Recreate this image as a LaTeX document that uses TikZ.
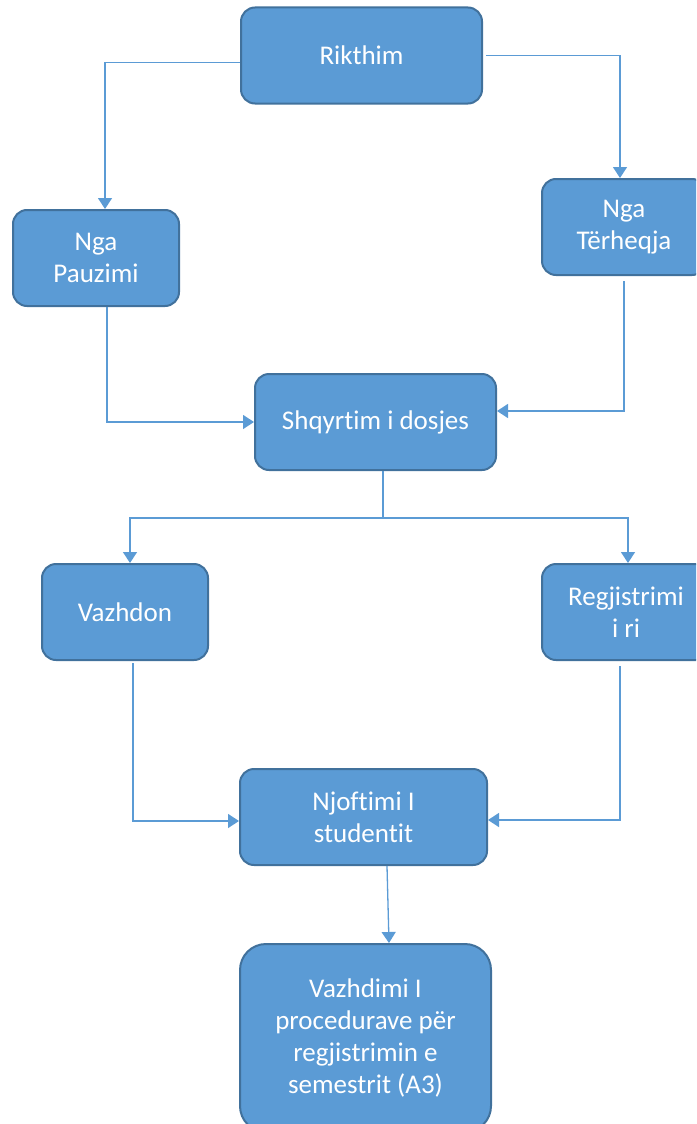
\documentclass[tikz,border=0pt]{standalone}
\usepackage{fontspec}
\setmainfont[Ligatures=NoCommon]{Carlito}
\usetikzlibrary{arrows.meta}
\definecolor{boxblue}{HTML}{5B9BD5}
\definecolor{boxedge}{HTML}{41719C}
\tikzset{
  block/.style={draw=boxedge, line width=2pt, fill=boxblue, rounded corners=14pt, align=center, text=white, minimum height=96pt, font=\fontsize{27}{32}\selectfont},
  bigblock/.style={block, rounded corners=26pt},
  link/.style={draw=boxblue, line width=1.3pt},
  flow/.style={link, -{Triangle[length=11pt, width=14pt]}}
}
\begin{document}
\begin{tikzpicture}[x=1pt, y=-1pt]
\useasboundingbox (0,0) rectangle (696,1124);
\clip (0,0) rectangle (696,1124);
\node[block, minimum width=241pt] (rik) at (361.5,55.5) {Rikthim};
\node[block, minimum width=166pt] (pauz) at (96,258) {Nga\\Pauzimi};
\node[block, minimum width=164pt] (terh) at (624,227) {Nga\\Tërheqja};
\node[block, minimum width=241pt] (shq) at (375.5,422) {Shqyrtim i dosjes};
\node[block, minimum width=166pt] (vazh) at (125,612) {Vazhdon};
\node[block, minimum width=168pt] (regj) at (626,612) {Regjistrimi\\i ri};
\node[block, minimum width=247pt] (njof) at (363.5,817) {Njoftimi I\\studentit};
\node[bigblock, minimum width=251pt, minimum height=188pt] (vazhd) at (365.5,1038) {Vazhdimi I\\procedurave për\\regjistrimin e\\semestrit (A3)};
\coordinate (split) at (383,518);
\draw[flow] ([yshift=-7pt]rik.west) -| ([xshift=9pt]pauz.north);
\draw[flow] ([xshift=3pt]rik.east) -| ([xshift=-4pt]terh.north);
\draw[flow] ([xshift=11pt]pauz.south) |- (shq.west);
\draw[flow] ([xshift=0pt, yshift=-5pt]terh.south) |- ([yshift=11pt]shq.east);
\draw[link] ([xshift=7.5pt]shq.south) -- (split);
\draw[flow] (split) -| ([xshift=5pt]vazh.north);
\draw[flow] (split) -| ([xshift=2pt]regj.north);
\draw[flow] ([xshift=8pt, yshift=-2pt]vazh.south) |- ([yshift=-4pt]njof.west);
\draw[flow] ([xshift=-6pt, yshift=-5pt]regj.south) |- ([yshift=-3pt]njof.east);
\draw[flow] ([xshift=23.5pt]njof.south) -- ([xshift=23.5pt]vazhd.north);
\end{tikzpicture}
\end{document}
